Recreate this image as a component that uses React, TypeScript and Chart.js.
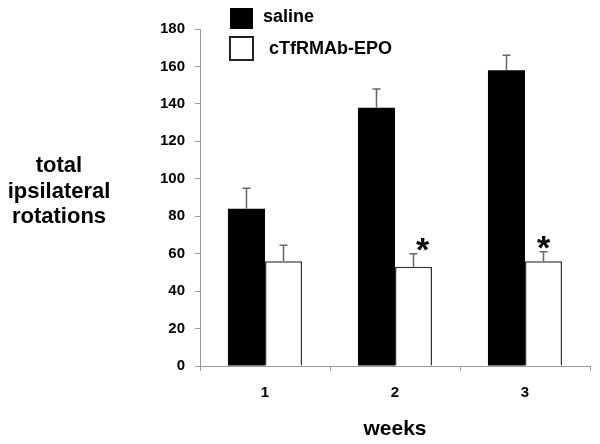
import { useEffect, useRef } from "react";
import { Chart, registerables } from "chart.js";

Chart.register(...registerables);

const weeks = ["1", "2", "3"];
const seriesLabels = ["saline", "cTfRMAb-EPO"];
const salineMeans = [84, 138, 158];
const salineSem = [11, 10, 8];
const epoMeans = [56, 53, 56];
const epoSem = [8.5, 7, 5];
const epoSignificant = [false, true, true];
const yTitleLines = ["total", "ipsilateral", "rotations"];
const xTitle = "weeks";
const yMin = 0;
const yMax = 180;
const yStep = 20;

const FONT = "'Liberation Sans', Arial, Helvetica, sans-serif";

const errorBarPlugin = {
  id: "errorBars",
  afterDatasetsDraw(chart: any, _args: any, opts: any) {
    const { ctx } = chart;
    const y = chart.scales.y;
    chart.data.datasets.forEach((ds: any, di: number) => {
      const meta = chart.getDatasetMeta(di);
      meta.data.forEach((bar: any, i: number) => {
        const top = y.getPixelForValue(ds.data[i] + ds.errors[i]);
        ctx.save();
        ctx.strokeStyle = opts.color;
        ctx.lineWidth = opts.width;
        ctx.beginPath();
        ctx.moveTo(bar.x, bar.y);
        ctx.lineTo(bar.x, top);
        ctx.moveTo(bar.x - opts.cap / 2, top);
        ctx.lineTo(bar.x + opts.cap / 2, top);
        ctx.stroke();
        if (ds.significant && ds.significant[i]) {
          ctx.fillStyle = "#000";
          ctx.font = `bold ${opts.starSize}px ${FONT}`;
          ctx.textAlign = "center";
          ctx.textBaseline = "alphabetic";
          ctx.fillText("*", bar.x + (opts.starDx[i] || 0), top + opts.starDy);
        }
        ctx.restore();
      });
    });
  },
};

const annotationsPlugin = {
  id: "annotations",
  afterDraw(chart: any, _args: any, opts: any) {
    const { ctx } = chart;
    ctx.save();
    // legend
    const ds = chart.data.datasets;
    opts.legend.forEach((item: any, i: number) => {
      const d = ds[i];
      ctx.fillStyle = d.backgroundColor;
      ctx.fillRect(item.bx, item.by, item.bw, item.bh);
      if (d.borderWidth) {
        ctx.strokeStyle = "#222";
        ctx.lineWidth = 2;
        ctx.strokeRect(item.bx, item.by, item.bw, item.bh);
      }
      ctx.fillStyle = "#000";
      ctx.font = `bold 18px ${FONT}`;
      ctx.textAlign = "left";
      ctx.textBaseline = "alphabetic";
      ctx.fillText(d.label, item.tx, item.ty);
    });
    // y title
    ctx.font = `bold 22px ${FONT}`;
    ctx.textAlign = "center";
    ctx.textBaseline = "alphabetic";
    yTitleLines.forEach((line, i) => {
      ctx.fillText(line, opts.yTitleX, opts.yTitleY + i * opts.yTitleGap);
    });
    ctx.restore();
  },
};

export default function App() {
  const ref = useRef<HTMLCanvasElement | null>(null);

  useEffect(() => {
    if (!ref.current) return;
    const chart = new Chart(ref.current, {
      type: "bar",
      data: {
        labels: weeks,
        datasets: [
          {
            label: seriesLabels[0],
            data: salineMeans,
            errors: salineSem,
            backgroundColor: "#000",
            borderColor: "#000",
            borderWidth: 0,
          } as any,
          {
            label: seriesLabels[1],
            data: epoMeans,
            errors: epoSem,
            significant: epoSignificant,
            backgroundColor: "#fff",
            borderColor: "#333",
            borderWidth: 1.5,
          } as any,
        ],
      },
      options: {
        animation: false,
        responsive: false,
        layout: { padding: { left: 0, right: 10, top: 29, bottom: 0 } },
        datasets: {
          bar: { categoryPercentage: 0.57, barPercentage: 1 },
        },
        plugins: {
          legend: { display: false },
          tooltip: { enabled: false },
          errorBars: { color: "#666", width: 1.5, cap: 8, starSize: 34, starDy: 7, starDx: [0, 9, 0] },
          annotations: {
            legend: [
              { bx: 230, by: 8, bw: 23, bh: 21, tx: 263, ty: 22 },
              { bx: 230, by: 37, bw: 23, bh: 23, tx: 269, ty: 54 },
            ],
            yTitleX: 59,
            yTitleY: 172,
            yTitleGap: 25.5,
          },
        } as any,
        scales: {
          x: {
            type: "category",
            offset: true,
            grid: { offset: true, drawOnChartArea: false, drawTicks: true, tickLength: 5, color: "#999" },
            border: { color: "#999" },
            ticks: { color: "#000", font: { family: FONT, size: 15, weight: "bold" }, padding: 13 },
            title: {
              display: true,
              text: xTitle,
              color: "#000",
              font: { family: FONT, size: 21, weight: "bold" },
              padding: { top: 0, bottom: 2 },
            },
            afterFit(scale: any) {
              scale.height = 78;
            },
          },
          y: {
            min: yMin,
            max: yMax,
            ticks: { stepSize: yStep, color: "#000", font: { family: FONT, size: 15, weight: "bold" }, padding: 10 },
            grid: { drawOnChartArea: false, drawTicks: true, tickLength: 5, color: "#999" },
            border: { color: "#999" },
            afterFit(scale: any) {
              scale.width = 200;
            },
          },
        },
      },
      plugins: [errorBarPlugin, annotationsPlugin],
    });
    return () => chart.destroy();
  }, []);

  return (
    <div style={{ position: "absolute", left: 0, top: 0, width: 600, height: 444, background: "#fff" }}>
      <canvas ref={ref} width={600} height={444} style={{ display: "block" }} />
    </div>
  );
}
